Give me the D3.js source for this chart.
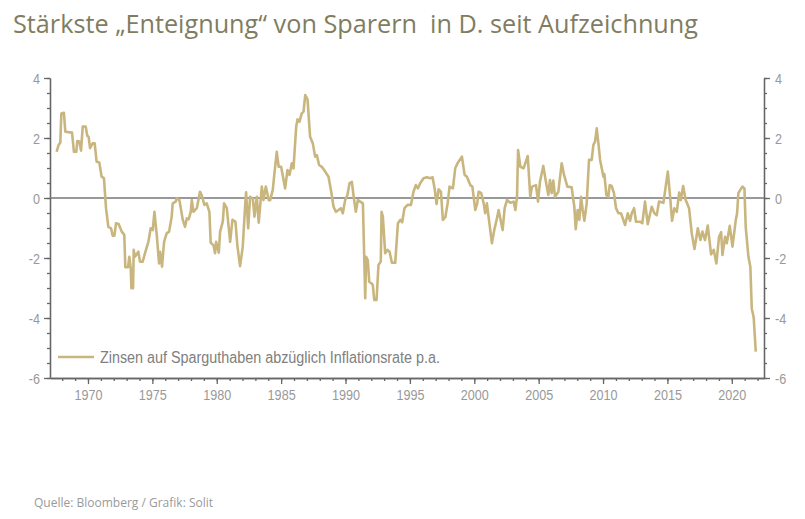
<!DOCTYPE html>
<html><head><meta charset="utf-8">
<script src="https://cdn.jsdelivr.net/npm/d3@7"></script>
<style>html,body{margin:0;background:#fff}svg{display:block}text{font-family:"Open Sans",sans-serif}</style>
</head><body><svg id="c" width="805" height="519"></svg>
<script>
const titleText = "Stärkste „Enteignung“ von Sparern  in D. seit Aufzeichnung";
const sourceText = "Quelle: Bloomberg / Grafik: Solit";
const legendText = "Zinsen auf Sparguthaben abzüglich Inflationsrate p.a.";
const xTickYears = [1970,1975,1980,1985,1990,1995,2000,2005,2010,2015,2020];
const yTickValues = [-6,-4,-2,0,2,4];
const years = [1967.56,1967.72,1967.85,1967.93,1968.13,1968.24,1968.76,1968.91,1969.09,1969.17,1969.33,1969.46,1969.59,1969.82,1969.95,1970.05,1970.16,1970.36,1970.52,1970.67,1970.88,1971.06,1971.24,1971.4,1971.58,1971.79,1971.92,1972.05,1972.18,1972.38,1972.62,1972.82,1972.9,1973.11,1973.21,1973.32,1973.37,1973.5,1973.55,1973.65,1973.91,1974.04,1974.25,1974.48,1974.69,1974.87,1975.03,1975.16,1975.34,1975.52,1975.6,1975.75,1975.91,1976.11,1976.3,1976.5,1976.58,1976.81,1976.89,1977.1,1977.36,1977.54,1977.67,1977.82,1977.98,1978.06,1978.19,1978.45,1978.7,1978.83,1979.04,1979.22,1979.43,1979.53,1979.74,1979.87,1979.95,1980.16,1980.26,1980.47,1980.57,1980.78,1981.04,1981.22,1981.45,1981.61,1981.81,1982.02,1982.2,1982.28,1982.44,1982.59,1982.8,1982.93,1983.11,1983.26,1983.5,1983.63,1983.81,1984.04,1984.15,1984.35,1984.48,1984.66,1984.81,1985,1985.31,1985.49,1985.65,1985.83,1985.96,1986.17,1986.27,1986.42,1986.6,1986.74,1986.87,1987.05,1987.25,1987.46,1987.64,1987.77,1987.95,1988.16,1988.42,1988.68,1988.89,1989.07,1989.25,1989.46,1989.64,1989.79,1989.97,1990.15,1990.31,1990.49,1990.67,1990.8,1990.96,1991.14,1991.35,1991.53,1991.6,1991.73,1991.84,1992,1992.12,1992.23,1992.41,1992.56,1992.74,1992.8,1992.9,1993.08,1993.26,1993.42,1993.6,1993.86,1994.07,1994.25,1994.4,1994.58,1994.82,1995.08,1995.28,1995.46,1995.62,1995.8,1996.06,1996.32,1996.58,1996.76,1996.92,1997.07,1997.23,1997.41,1997.56,1997.75,1997.93,1998.08,1998.34,1998.52,1998.7,1999.04,1999.25,1999.43,1999.69,1999.85,2000.08,2000.23,2000.34,2000.54,2000.73,2000.85,2000.98,2001.11,2001.37,2001.55,2001.76,2001.89,2002.2,2002.36,2002.54,2002.8,2003.06,2003.19,2003.32,2003.4,2003.58,2003.83,2004.15,2004.35,2004.48,2004.79,2004.95,2005.1,2005.36,2005.54,2005.75,2005.88,2006.01,2006.14,2006.27,2006.53,2006.79,2006.97,2007.23,2007.56,2007.77,2007.88,2008.03,2008.16,2008.29,2008.42,2008.55,2008.73,2008.91,2009.12,2009.25,2009.38,2009.51,2009.64,2009.77,2010.03,2010.1,2010.26,2010.41,2010.52,2010.67,2010.85,2011.01,2011.19,2011.4,2011.71,2011.92,2012.1,2012.23,2012.41,2012.56,2012.87,2013.05,2013.26,2013.47,2013.78,2013.99,2014.17,2014.35,2014.69,2015.03,2015.21,2015.36,2015.54,2015.73,2015.91,2016.04,2016.22,2016.42,2016.68,2016.89,2017.1,2017.36,2017.56,2017.72,2017.92,2018.13,2018.39,2018.6,2018.8,2019.01,2019.17,2019.27,2019.48,2019.61,2019.84,2020.05,2020.31,2020.41,2020.51,2020.82,2020.98,2021.08,2021.29,2021.44,2021.55,2021.7,2021.86];
const values = [1.54,1.77,1.84,2.82,2.84,2.21,2.18,1.54,1.54,1.9,1.88,1.58,2.38,2.38,2.07,2.04,1.66,1.82,1.82,1.21,1.18,0.71,0.66,-0.34,-0.96,-1.01,-1.26,-1.26,-0.84,-0.87,-1.12,-1.23,-2.31,-2.31,-1.96,-2.34,-3.01,-3.01,-1.73,-1.96,-1.79,-2.12,-2.12,-1.76,-1.46,-1.01,-1.07,-0.46,-1.23,-2.18,-1.79,-2.29,-1.46,-1.18,-1.12,-0.62,-0.18,-0.12,-0.01,-0.07,-0.73,-0.96,-0.68,-0.71,-0.46,-0.07,-0.46,-0.34,0.21,0.1,-0.23,-0.18,-0.46,-1.49,-1.57,-1.84,-1.46,-1.82,-1.12,-0.79,-0.18,-0.34,-1.46,-0.73,-0.79,-1.62,-2.27,-1.62,-0.29,0.19,-1.01,0.04,-0.01,-0.62,0.04,-0.82,0.38,-0.07,0.38,-0.07,-0.07,0.27,0.82,1.54,1.04,1.04,0.32,0.93,0.77,1.16,0.99,2.38,2.62,2.54,2.82,2.88,3.43,3.29,2.04,1.82,1.38,1.43,1.1,1.04,0.88,0.71,0.21,-0.29,-0.46,-0.4,-0.34,-0.51,-0.07,0.1,0.49,0.54,-0.07,-0.46,-0.07,-0.12,-0.18,-3.34,-1.96,-2.07,-2.79,-2.84,-2.9,-3.4,-3.4,-2.23,-2.12,-0.46,-0.62,-1.84,-1.73,-1.79,-2.16,-2.16,-0.84,-0.73,-0.81,-0.34,-0.23,-0.23,0.21,0.43,0.32,0.49,0.66,0.69,0.66,0.69,0.32,-0.2,0.29,0.21,-0.73,-0.64,-0.18,0.38,0.32,0.99,1.16,1.38,0.77,0.71,0.43,0.38,-0.4,-0.18,0.21,0.16,-0.18,-0.51,-0.18,-0.62,-1.51,-1.07,-0.68,-0.4,-1.07,-0.34,-0.07,-0.16,-0.12,-0.4,0.04,1.6,1.04,0.99,1.4,0.04,0.38,0.43,-0.12,0.54,1.07,0.6,0.1,0.6,0.16,0.58,0.04,0.21,1.16,0.77,0.38,0.36,-0.29,-1.04,-0.4,-0.73,0.04,-0.4,-0.76,-0.18,1.27,1.27,1.77,1.88,2.32,1.82,1.27,0.71,0.8,0.1,0.04,0.43,0.4,0.16,-0.34,-0.51,-0.51,-0.9,-0.51,-0.76,-0.51,-0.34,-0.79,-0.79,-0.84,-0.12,-0.87,-0.29,-0.51,-0.57,-0.12,-0.16,0.88,0.04,-0.76,-0.34,-0.46,0.18,-0.07,0.4,-0.07,-0.34,-1.18,-1.7,-1.01,-1.4,-1.12,-1.4,-0.92,-1.88,-1.73,-2.18,-1.29,-1.14,-1.9,-1.29,-1.51,-0.93,-1.62,-0.73,-0.51,0.16,0.38,0.32,-0.96,-1.96,-2.29,-3.68,-3.98,-5.12];

const lineColor = "#c9b67f", axisColor = "#666", textColor = "#999", titleColor = "#7f7d5f", narrow = "'Liberation Sans',sans-serif";
const svg = d3.select("#c");
const x = d3.scaleLinear().domain([1967.05,2022.5]).range([50,764]);
const y = d3.scaleLinear().domain([-6,4]).range([378,78]);

svg.append("text").attr("x",13).attr("y",33).attr("fill",titleColor).style("font-size","25px").style("white-space","pre")
  .attr("textLength",685).attr("lengthAdjust","spacingAndGlyphs").text(titleText);
svg.append("text").attr("x",34).attr("y",507).attr("fill","#9a9a9a").style("font-size","12px").text(sourceText);

const fmt = d => String(d);
const styleAxis = g => { g.selectAll("path,line").attr("stroke",axisColor).attr("stroke-width",1.3);
  g.selectAll("text").attr("fill",textColor).style("font-family",narrow).style("font-size","14px")
   .attr("lengthAdjust","spacingAndGlyphs")
   .attr("textLength",function(){return this.getComputedTextLength()*0.9;}); };
const minor = d3.range(-6,4.01,0.5);
const yl = d3.axisLeft(y).tickValues(yTickValues).tickFormat(fmt).tickSize(6).tickPadding(4);
const gL = svg.append("g").attr("transform","translate(50,0)");
gL.call(d3.axisLeft(y).tickValues(minor).tickFormat("").tickSize(3).tickSizeOuter(0));
gL.append("g").call(yl.tickSizeOuter(0)); styleAxis(gL);
gL.selectAll("text").attr("dy","0.4em");
const yr = d3.axisRight(y).tickValues(yTickValues).tickFormat(fmt).tickSize(6).tickPadding(5).tickSizeOuter(0);
const gR = svg.append("g").attr("transform","translate(764,0)");
gR.call(d3.axisRight(y).tickValues(minor).tickFormat("").tickSize(3).tickSizeOuter(0));
gR.append("g").call(yr); styleAxis(gR);
gR.selectAll("text").attr("dy","0.4em");
const gB = svg.append("g").attr("transform","translate(0,378)");
gB.call(d3.axisBottom(x).tickValues(d3.range(1968,2023)).tickFormat("").tickSize(3).tickSizeOuter(0));
gB.append("g").call(d3.axisBottom(x).tickValues(xTickYears).tickFormat(fmt).tickSize(6).tickPadding(6).tickSizeOuter(0));
styleAxis(gB);

svg.append("line").attr("x1",x(1967.05)).attr("x2",x(2022.5)).attr("y1",y(0)).attr("y2",y(0)).attr("stroke","#777").attr("stroke-width",1.4);

svg.append("path").datum(years.map((yr,i)=>[yr,values[i]]))
 .attr("fill","none").attr("stroke",lineColor).attr("stroke-width",2.6).attr("stroke-linejoin","round")
 .attr("d",d3.line().x(d=>x(d[0])).y(d=>y(d[1])));

svg.append("line").attr("x1",58).attr("x2",94).attr("y1",357).attr("y2",357).attr("stroke",lineColor).attr("stroke-width",2.6);
svg.append("text").attr("x",100).attr("y",363).attr("fill","#808080").style("font-family",narrow).style("font-size","16px")
  .attr("textLength",340).attr("lengthAdjust","spacingAndGlyphs").text(legendText);
</script></body></html>
